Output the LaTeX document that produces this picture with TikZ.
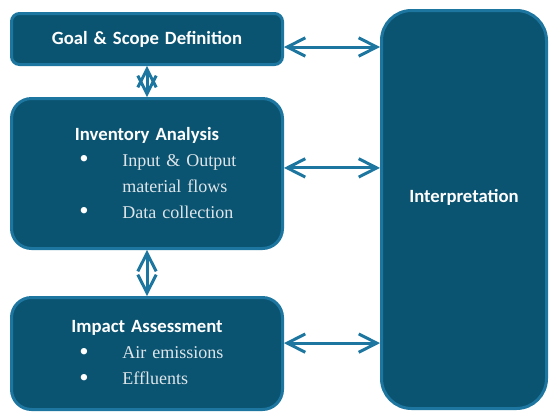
\documentclass[tikz,border=0pt]{standalone}
\usepackage{fontspec}
\setmainfont{Liberation Serif}
\setsansfont{Carlito}
\usepackage{xcolor}
\usetikzlibrary{positioning, arrows.meta}

\definecolor{boxfill}{RGB}{11,84,113}
\definecolor{boxline}{RGB}{29,118,160}
\definecolor{itemgray}{RGB}{222,229,233}

\newcommand{\boxhead}[1]{\makebox[67.75mm]{\fontsize{13.3}{18.5}\sffamily\bfseries\color{white}#1}}
\newcommand{\lcaitem}[1]{\hspace*{17mm}\makebox[10.75mm][l]{\raisebox{-0.45mm}{\fontsize{19}{18.5}\selectfont\color{white}\textbullet}}#1}

\begin{document}
\begin{tikzpicture}[node distance = 7.75mm,
        phase/.style={draw=boxline, fill=boxfill, line width=0.75mm, inner sep=0pt},
        listbox/.style={phase, text width=67.75mm, align=left, text=itemgray, font=\fontsize{12.8}{18.5}\selectfont},
        both/.style={{Straight Barb[length=4.5mm,width=4.6mm]}-{Straight Barb[length=4.5mm,width=4.6mm]}, draw=boxline, line width=0.75mm}]
        \useasboundingbox (0,0) rectangle (137.25mm,-103.5mm);

        \node[listbox, rounded corners=2mm, minimum height=12.75mm] (goal) at (36.75mm,-9.75mm) {\boxhead{Goal \& Scope Definition}};
        \node[listbox, rounded corners=5mm, minimum height=37.5mm] (inv) [below = of goal] {\boxhead{Inventory Analysis}\\
            \lcaitem{Input \& Output}\\
            \hspace*{27.75mm}material flows\\
            \lcaitem{Data collection}};
        \node[listbox, rounded corners=5mm, minimum height=28mm] (imp) [below = 11.5mm of inv] {\boxhead{Impact Assessment}\\
            \lcaitem{Air emissions}\\
            \lcaitem{Effluents}};

        \node[phase, rounded corners=7.5mm, minimum width=41.25mm, minimum height=99.5mm, text depth=7mm,
            text=white, font=\fontsize{13.3}{16}\sffamily\bfseries] (interp) at (116mm,-52.375mm) {Interpretation};

        \coordinate (ga) at ([yshift=-2mm]goal.east);
        \coordinate (ia) at ([yshift=1.4mm]inv.east);
        \coordinate (ma) at ([yshift=2.6mm]imp.east);

        \draw[both] (goal.south) -- (inv.north);
        \draw[both] (inv.south) -- (imp.north);

        \draw[both] (ga) -- (ga -| interp.west);
        \draw[both] (ia) -- (ia -| interp.west);
        \draw[both] (ma) -- (ma -| interp.west);
\end{tikzpicture}
\end{document}
